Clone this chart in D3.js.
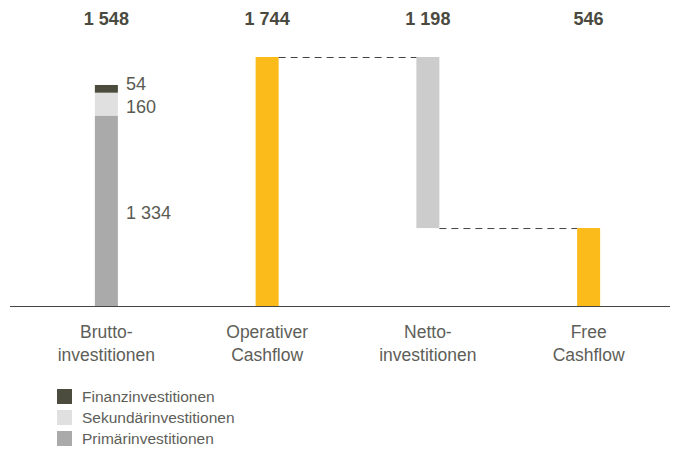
<!DOCTYPE html>
<html>
<head>
<meta charset="utf-8">
<script src="https://d3js.org/d3.v7.min.js"></script>
<style>
  body { margin: 0; background: #fff; }
  text { font-family: "Liberation Sans", Arial, sans-serif; }
</style>
</head>
<body>
<svg id="chart" width="678" height="449"></svg>
<script>
// categories and values
var categories = ["Brutto-\ninvestitionen", "Operativer\nCashflow", "Netto-\ninvestitionen", "Free\nCashflow"];
var totals = [1548, 1744, 1198, 546];
// stacked parts of the first bar (bottom to top)
var segNames = ["Primärinvestitionen", "Sekundärinvestitionen", "Finanzinvestitionen"];
var segValues = [1334, 160, 54];
var segColors = ["#aaaaaa", "#e0e0e0", "#4b4c3e"];
// floating bars: [from, to]
var floats = [null, [0, 1744], [546, 1744], [0, 546]];
var floatColors = [null, "#fbbb1a", "#cccccc", "#fbbb1a"];

var svg = d3.select("#chart");
var baseY = 306, topY = 57, barW = 23;

var x = d3.scalePoint().domain(d3.range(categories.length)).range([26, 669]).padding(0.5);
var y = d3.scaleLinear().domain([0, 1744]).range([baseY, topY]);

// stacked first bar
var acc = 0;
var stack = segValues.map(function(v, i) {
  var s = { y0: acc, y1: acc + v, v: v, c: segColors[i] };
  acc += v;
  return s;
});
svg.selectAll("rect.seg").data(stack).enter().append("rect")
  .attr("x", x(0) - barW / 2)
  .attr("width", barW)
  .attr("y", function(d) { return y(d.y1); })
  .attr("height", function(d) { return y(d.y0) - y(d.y1); })
  .attr("fill", function(d) { return d.c; });

// segment labels (nudged so they do not collide)
var segNudge = [2, 3, -5];
svg.selectAll("text.seg").data(stack).enter().append("text")
  .attr("x", x(0) + barW / 2 + 8)
  .attr("y", function(d, i) { return (y(d.y0) + y(d.y1)) / 2 + 6 + segNudge[i]; })
  .attr("font-size", 18)
  .attr("fill", "#5a5a52")
  .text(function(d) { return d3.format(",")(d.v).replace(/,/g, " "); });

// floating bars
floats.forEach(function(f, i) {
  if (!f) return;
  svg.append("rect")
    .attr("x", x(i) - barW / 2)
    .attr("width", barW)
    .attr("y", y(f[1]))
    .attr("height", y(f[0]) - y(f[1]))
    .attr("fill", floatColors[i]);
});

// dashed connectors
var connectors = [[1, 2, 1744], [2, 3, 546]];
connectors.forEach(function(c) {
  svg.append("line")
    .attr("x1", x(c[0]) + barW / 2).attr("x2", x(c[1]) - barW / 2)
    .attr("y1", y(c[2]) + 0.5).attr("y2", y(c[2]) + 0.5)
    .attr("stroke", "#444").attr("stroke-width", 1)
    .attr("stroke-dasharray", "7,5");
});

// baseline
svg.append("line")
  .attr("x1", 10).attr("x2", 670)
  .attr("y1", baseY + 0.5).attr("y2", baseY + 0.5)
  .attr("stroke", "#444").attr("stroke-width", 1);

// totals on top
svg.selectAll("text.total").data(totals).enter().append("text")
  .attr("x", function(d, i) { return x(i); })
  .attr("y", 25)
  .attr("text-anchor", "middle")
  .attr("font-size", 18)
  .attr("font-weight", "bold")
  .attr("fill", "#4a4a40")
  .text(function(d) { return d3.format(",")(d).replace(/,/g, " "); });

// category labels
categories.forEach(function(c, i) {
  var t = svg.append("text")
    .attr("text-anchor", "middle")
    .attr("font-size", 17.5)
    .attr("fill", "#5e5e58");
  c.split("\n").forEach(function(line, j) {
    t.append("tspan").attr("x", x(i)).attr("y", 338 + j * 23).text(line);
  });
});

// legend (top to bottom: Finanz, Sekundär, Primär)
var legend = segNames.map(function(n, i) { return { n: n, c: segColors[i] }; }).reverse();
var lg = svg.selectAll("g.lg").data(legend).enter().append("g")
  .attr("transform", function(d, i) { return "translate(57," + (389 + i * 21) + ")"; });
lg.append("rect").attr("width", 15).attr("height", 15).attr("fill", function(d) { return d.c; });
lg.append("text").attr("x", 25).attr("y", 13)
  .attr("font-size", 15.5).attr("fill", "#5e5e58")
  .text(function(d) { return d.n; });
</script>
</body>
</html>
